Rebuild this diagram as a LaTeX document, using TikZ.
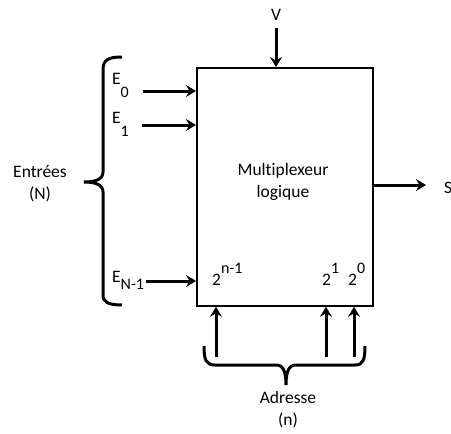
\documentclass[tikz,border=0pt]{standalone}
\usepackage{fontspec}
\setmainfont{Carlito}[Ligatures=NoCommon]
\usetikzlibrary{arrows.meta}
\begin{document}
\begin{tikzpicture}[x=1pt,y=-1pt,
  sig/.style={line width=3pt,-{Stealth[length=10pt,width=12pt,inset=3.5pt]}},
  brc/.style={line width=3pt},
  lbl/.style={font=\fontsize{17.5}{20}\selectfont,inner sep=0pt},
  sm/.style={font=\fontsize{15}{18}\selectfont}]
\useasboundingbox[fill=white] (0,0) rectangle (451,434);
\node[draw,line width=1.8pt,minimum width=176pt,minimum height=238pt,inner sep=0pt,anchor=north west] (mux) at (196,67) {};
\node[lbl,align=center] (title) at (283,182) {Multiplexeur\\[2pt]logique};
% inputs
\node[lbl,anchor=base west] (e0) at (112,84) {E\raisebox{-1.6ex}{\fontsize{16}{18}\selectfont 0}};
\node[lbl,anchor=base west] (e1) at (112,123) {E\raisebox{-1.6ex}{\fontsize{16}{18}\selectfont 1}};
\node[lbl,anchor=base west] (en) at (112,282) {E\raisebox{-0.9ex}{\fontsize{16}{18}\selectfont N-1}};
\coordinate (e0s) at (143,91);
\coordinate (e1s) at (142,125);
\coordinate (ens) at (146,281);
\draw[sig] (e0s) -- (e0s -| mux.west);
\draw[sig] (e1s) -- (e1s -| mux.west);
\draw[sig] (ens) -- (ens -| mux.west);
% V
\node[lbl] (v) at (276,15) {V};
\coordinate (vs) at (276,28);
\draw[sig] (vs) -- (vs |- mux.north);
% output
\coordinate (ss) at (372,185);
\coordinate (se) at (426,185);
\node[lbl,anchor=west] (s) at (444,188) {S};
\draw[sig] (ss) -- (se);
% left brace
\draw[brc] (122,57) .. controls (108,57) and (103,60) .. (103,70) -- (103,172)
  .. controls (103,179) and (96,182) .. (84,182)
  .. controls (96,182) and (103,185) .. (103,192) -- (103,295)
  .. controls (103,302) and (108,305) .. (122,305);
\node[lbl,align=center] (entrees) at (40,184) {Entrées\\[2pt](N)};
% address labels
\node[lbl,anchor=base west] (an) at (212,285) {2\raisebox{1.4ex}{\fontsize{16}{18}\selectfont n-1}};
\node[lbl,anchor=base west] (a1) at (322,285) {2\raisebox{1.4ex}{\fontsize{16}{18}\selectfont 1}};
\node[lbl,anchor=base west] (a0) at (348,285) {2\raisebox{1.4ex}{\fontsize{16}{18}\selectfont 0}};
\coordinate (bn) at (216,357);
\coordinate (b1) at (326,357);
\coordinate (b0) at (354,357);
\draw[sig] (bn) -- (bn |- mux.south);
\draw[sig] (b1) -- (b1 |- mux.south);
\draw[sig] (b0) -- (b0 |- mux.south);
% bottom brace
\draw[brc] (204,346) .. controls (204,360) and (206,365) .. (215,365) -- (276,365)
  .. controls (283,365) and (286,371) .. (286,385)
  .. controls (286,371) and (289,365) .. (296,365) -- (355,365)
  .. controls (363,365) and (365,360) .. (365,346);
\node[lbl,align=center] (adr) at (288,410) {Adresse\\[2pt](n)};
\end{tikzpicture}
\end{document}
